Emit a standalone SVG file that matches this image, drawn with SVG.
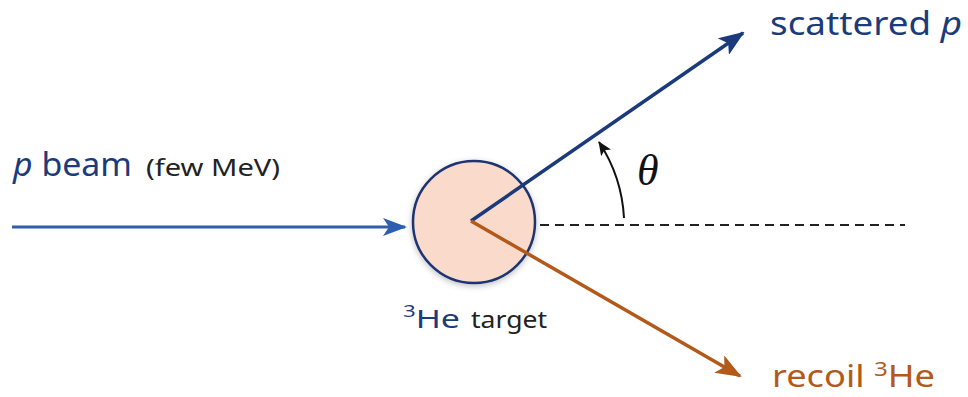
<svg xmlns="http://www.w3.org/2000/svg" width="968" height="397" viewBox="0 0 968 397">
<style>
.lab{font-family:"Noto Sans","Open Sans","Liberation Sans",sans-serif}
.blue{fill:#1c3b7a}
.dark{fill:#222}
.orange{fill:#b3591a}
</style>
<defs>
<marker id="ahBeam" viewBox="0 0 24 18" refX="22" refY="9" markerWidth="24" markerHeight="18" markerUnits="userSpaceOnUse" orient="auto">
<path d="M0,0 L24,9 L0,18 L6,9 Z" fill="#2e5fae"/>
</marker>
<marker id="ahScat" viewBox="0 0 26 20" refX="24" refY="10" markerWidth="26" markerHeight="20" markerUnits="userSpaceOnUse" orient="auto">
<path d="M0,0 L26,10 L0,20 L6,10 Z" fill="#1a3a7c"/>
</marker>
<marker id="ahRec" viewBox="0 0 26 20" refX="24" refY="10" markerWidth="26" markerHeight="20" markerUnits="userSpaceOnUse" orient="auto">
<path d="M0,0 L26,10 L0,20 L6,10 Z" fill="#b3591a"/>
</marker>
<marker id="ahTheta" viewBox="0 0 14 12" refX="13" refY="6" markerWidth="14" markerHeight="12" markerUnits="userSpaceOnUse" orient="auto">
<path d="M0,0 L14,6 L0,12 L3,6 Z" fill="#111"/>
</marker>
<filter id="sh" x="-30%" y="-30%" width="160%" height="160%">
<feGaussianBlur in="SourceAlpha" stdDeviation="3"/>
<feOffset dy="2"/>
<feComponentTransfer><feFuncA type="linear" slope="0.25"/></feComponentTransfer>
<feMerge><feMergeNode/><feMergeNode in="SourceGraphic"/></feMerge>
</filter>
</defs>

<g id="target">
<circle cx="474" cy="222" r="61" fill="#fadacb" stroke="#1d3572" stroke-width="2.5" filter="url(#sh)"/>
<text class="lab blue" x="403" y="328" font-size="26" textLength="57" lengthAdjust="spacingAndGlyphs"><tspan font-size="17" dy="-11">3</tspan><tspan dy="11">He</tspan></text>
<text class="lab dark" x="471" y="328" font-size="23" textLength="76" lengthAdjust="spacingAndGlyphs">target</text>
</g>

<g id="connectors" fill="none">
<line x1="12" y1="227" x2="405" y2="227" stroke="#2e5fae" stroke-width="3" marker-end="url(#ahBeam)"/>
<line x1="540" y1="225" x2="905" y2="225" stroke="#222" stroke-width="2" stroke-dasharray="9 6"/>
<line x1="471" y1="221" x2="743" y2="33" stroke="#1a3a7c" stroke-width="3.5" marker-end="url(#ahScat)"/>
<line x1="471" y1="221" x2="740" y2="376" stroke="#b3591a" stroke-width="3.5" marker-end="url(#ahRec)"/>
<path d="M624,218 A153,153 0 0 0 599,142" stroke="#111" stroke-width="2" marker-end="url(#ahTheta)"/>
</g>

<g id="beam-label">
<text class="lab blue" x="13" y="176" font-size="32" textLength="119" lengthAdjust="spacingAndGlyphs"><tspan font-style="italic">p</tspan> beam</text>
<text class="lab dark" x="146" y="176" font-size="23" textLength="134" lengthAdjust="spacingAndGlyphs">(few MeV)</text>
</g>
<g id="scattered-label">
<text class="lab blue" x="770" y="35" font-size="32" textLength="192" lengthAdjust="spacingAndGlyphs">scattered <tspan font-style="italic">p</tspan></text>
</g>
<g id="recoil-label">
<text class="lab orange" x="772" y="387" font-size="30" textLength="163" lengthAdjust="spacingAndGlyphs">recoil <tspan font-size="20" dy="-11">3</tspan><tspan dy="11">He</tspan></text>
</g>
<g id="theta-label">
<text x="637" y="185" font-family="'Liberation Serif',serif" font-style="italic" font-size="44" fill="#111">θ</text>
</g>
</svg>
